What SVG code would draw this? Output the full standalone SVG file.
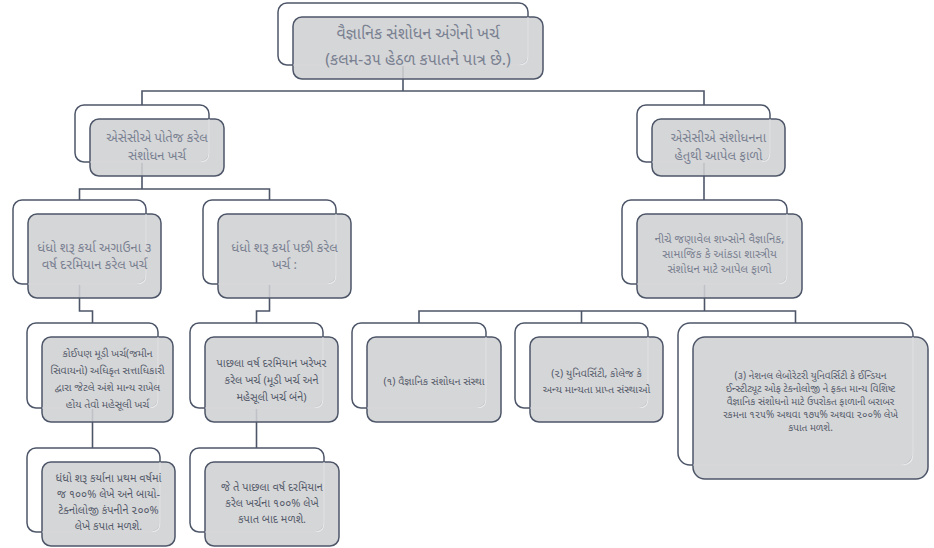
<svg xmlns="http://www.w3.org/2000/svg" width="934" height="548" viewBox="0 0 934 548">
<style>
.back{fill:#fff;stroke:#4d5668;stroke-width:1.5}
.front{fill:#cfd0d3;fill-opacity:.88;stroke:#4d5668;stroke-width:1.5}
.ghost{fill:none;stroke:#f4f5f6;stroke-opacity:.75;stroke-width:1.2}
.c{fill:none;stroke:#4d5668;stroke-width:1.6}
.t{font-family:"Noto Sans Gujarati","Lohit Gujarati","Noto Sans","DejaVu Sans",sans-serif;text-anchor:middle}
.up{fill:#7a8191}
.lo{fill:#555c6b}
</style>
<rect width="934" height="548" fill="#fff"/>
<g id="connectors">
<path class="c" d="M403 65V91M142 105V91H704V105"/>
<path class="c" d="M142 162V189M79.5 200V189H269.5V200"/>
<path class="c" d="M704 162V200"/>
<path class="c" d="M79.5 284V311H92.5V323"/>
<path class="c" d="M269.5 284V311H256.5V323"/>
<path class="c" d="M704.5 284V311M419 323V311H795.5V323M581.5 311V323"/>
<path class="c" d="M92.5 408V448"/>
<path class="c" d="M256.5 408V448"/>
</g>
<g id="root">
<rect class="back" x="278" y="3" width="250" height="62" rx="9"/>
<rect class="front" x="293" y="17" width="250" height="62" rx="9"/>
<path class="ghost" d="M293 65H519Q528 65 528 56V17"/>
<text class="t up" font-size="16" x="418" y="39">વૈજ્ઞાનિક સંશોધન અંગેનો ખર્ચ</text>
<text class="t up" font-size="16" x="418" y="65">(કલમ-૩૫ હેઠળ કપાતને પાત્ર છે.)</text>
</g>
<g id="n-own">
<rect class="back" x="75" y="105" width="134" height="57" rx="9"/>
<rect class="front" x="90" y="119" width="134" height="57" rx="9"/>
<path class="ghost" d="M90 162H200Q209 162 209 153V119"/>
<text class="t up" font-size="13" x="157" y="142">એસેસીએ પોતેજ કરેલ</text>
<text class="t up" font-size="13" x="157" y="160">સંશોધન ખર્ચ</text>
</g>
<g id="n-contrib">
<rect class="back" x="637" y="105" width="133" height="57" rx="9"/>
<rect class="front" x="652" y="119" width="133" height="57" rx="9"/>
<path class="ghost" d="M652 162H761Q770 162 770 153V119"/>
<text class="t up" font-size="13" x="718.5" y="142">એસેસીએ સંશોધનના</text>
<text class="t up" font-size="13" x="718.5" y="160">હેતુથી આપેલ ફાળો</text>
</g>
<g id="n-before">
<rect class="back" x="13" y="200" width="133" height="84" rx="9"/>
<rect class="front" x="28" y="214" width="133" height="84" rx="9"/>
<path class="ghost" d="M28 284H137Q146 284 146 275V214"/>
<text class="t up" font-size="13" x="94.5" y="252">ધંધો શરૂ કર્યા અગાઉના ૩</text>
<text class="t up" font-size="13" x="94.5" y="269">વર્ષ દરમિયાન કરેલ ખર્ચ</text>
</g>
<g id="n-after">
<rect class="back" x="203" y="200" width="133" height="84" rx="9"/>
<rect class="front" x="218" y="214" width="133" height="84" rx="9"/>
<path class="ghost" d="M218 284H327Q336 284 336 275V214"/>
<text class="t up" font-size="13" x="284.5" y="252">ધંધો શરૂ કર્યા પછી કરેલ</text>
<text class="t up" font-size="13" x="284.5" y="269">ખર્ચ :</text>
</g>
<g id="n-persons">
<rect class="back" x="622" y="200" width="165" height="84" rx="9"/>
<rect class="front" x="637" y="214" width="165" height="84" rx="9"/>
<path class="ghost" d="M637 284H778Q787 284 787 275V214"/>
<text class="t up" font-size="11.5" x="719.5" y="243">નીચે જણાવેલ શખ્સોને વૈજ્ઞાનિક,</text>
<text class="t up" font-size="11.5" x="719.5" y="258">સામાજિક કે આંકડા શાસ્ત્રીય</text>
<text class="t up" font-size="11.5" x="719.5" y="273">સંશોધન માટે આપેલ ફાળો</text>
</g>
<g id="n-capital">
<rect class="back" x="27" y="323" width="131" height="85" rx="9"/>
<rect class="front" x="42" y="337" width="131" height="85" rx="9"/>
<path class="ghost" d="M42 408H149Q158 408 158 399V337"/>
<text class="t lo" font-size="10.5" x="107.5" y="357">કોઈપણ મૂડી ખર્ચ(જમીન</text>
<text class="t lo" font-size="10.5" x="107.5" y="374">સિવાયનો) અધિકૃત સત્તાધિકારી</text>
<text class="t lo" font-size="10.5" x="107.5" y="391">દ્વારા જેટલે અંશે માન્ય રાખેલ</text>
<text class="t lo" font-size="10.5" x="107.5" y="408">હોય તેવો મહેસૂલી ખર્ચ</text>
</g>
<g id="n-actual">
<rect class="back" x="190" y="323" width="133" height="85" rx="9"/>
<rect class="front" x="205" y="337" width="133" height="85" rx="9"/>
<path class="ghost" d="M205 408H314Q323 408 323 399V337"/>
<text class="t lo" font-size="11" x="271.5" y="367">પાછલા વર્ષ દરમિયાન ખરેખર</text>
<text class="t lo" font-size="11" x="271.5" y="384">કરેલ ખર્ચ (મૂડી ખર્ચ અને</text>
<text class="t lo" font-size="11" x="271.5" y="401">મહેસૂલી ખર્ચ બંને)</text>
</g>
<g id="n-sci">
<rect class="back" x="352" y="323" width="134" height="85" rx="9"/>
<rect class="front" x="367" y="337" width="134" height="85" rx="9"/>
<path class="ghost" d="M367 408H477Q486 408 486 399V337"/>
<text class="t lo" font-size="10.5" x="434" y="385">(૧) વૈજ્ઞાનિક સંશોધન સંસ્થા</text>
</g>
<g id="n-univ">
<rect class="back" x="515" y="323" width="133" height="85" rx="9"/>
<rect class="front" x="530" y="337" width="133" height="85" rx="9"/>
<path class="ghost" d="M530 408H639Q648 408 648 399V337"/>
<text class="t lo" font-size="10.5" x="596.5" y="377">(૨) યુનિવર્સિટી, કોલેજ કે</text>
<text class="t lo" font-size="10.5" x="596.5" y="393">અન્ય માન્યતા પ્રાપ્ત સંસ્થાઓ</text>
</g>
<g id="n-national">
<rect class="back" x="678" y="323" width="235" height="142" rx="12"/>
<rect class="front" x="693" y="337" width="235" height="142" rx="12"/>
<path class="ghost" d="M693 465H901Q913 465 913 453V337"/>
<text class="t lo" font-size="10" x="810.5" y="379">(૩) નેશનલ લેબોરેટરી યુનિવર્સિટી કે ઈન્ડિયન</text>
<text class="t lo" font-size="10" x="810.5" y="392">ઈન્સ્ટીટ્યૂટ ઓફ ટેક્નોલોજી ને ફક્ત માન્ય વિશિષ્ટ</text>
<text class="t lo" font-size="10" x="810.5" y="405">વૈજ્ઞાનિક સંશોધનો માટે ઉપરોક્ત ફાળાની બરાબર</text>
<text class="t lo" font-size="10" x="810.5" y="418">રકમના ૧૨૫% અથવા ૧૭૫% અથવા ૨૦૦% લેખે</text>
<text class="t lo" font-size="10" x="810.5" y="431">કપાત મળશે.</text>
</g>
<g id="n-firstyear">
<rect class="back" x="27" y="448" width="133" height="84" rx="9"/>
<rect class="front" x="42" y="462" width="133" height="84" rx="9"/>
<path class="ghost" d="M42 532H151Q160 532 160 523V462"/>
<text class="t lo" font-size="11" x="108.5" y="482">ધંધો શરૂ કર્યાના પ્રથમ વર્ષમાં</text>
<text class="t lo" font-size="11" x="108.5" y="498">જ ૧૦૦% લેખે અને બાયો-</text>
<text class="t lo" font-size="11" x="108.5" y="514">ટેક્નોલોજી કંપનીને ૨૦૦%</text>
<text class="t lo" font-size="11" x="108.5" y="530">લેખે કપાત મળશે.</text>
</g>
<g id="n-sameyear">
<rect class="back" x="190" y="448" width="134" height="84" rx="9"/>
<rect class="front" x="205" y="462" width="134" height="84" rx="9"/>
<path class="ghost" d="M205 532H315Q324 532 324 523V462"/>
<text class="t lo" font-size="11" x="272" y="491">જે તે પાછલા વર્ષ દરમિયાન</text>
<text class="t lo" font-size="11" x="272" y="507">કરેલ ખર્ચના ૧૦૦% લેખે</text>
<text class="t lo" font-size="11" x="272" y="523">કપાત બાદ મળશે.</text>
</g>
</svg>
